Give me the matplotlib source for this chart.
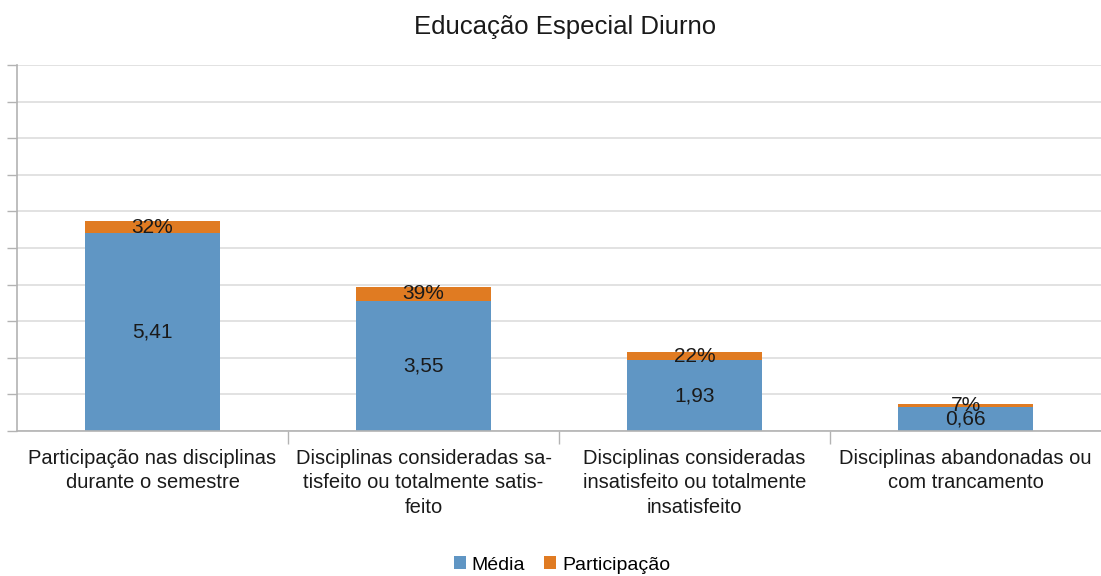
import numpy as np
import matplotlib.pyplot as plt

plt.rcParams['font.family'] = ['Liberation Sans', 'DejaVu Sans']

categorias = [
    'Participação nas disciplinas\ndurante o semestre',
    'Disciplinas consideradas sa-\ntisfeito ou totalmente satis-\nfeito',
    'Disciplinas consideradas\ninsatisfeito ou totalmente\ninsatisfeito',
    'Disciplinas abandonadas ou\ncom trancamento',
]
media = [5.41, 3.55, 1.93, 0.66]
participacao = [0.32, 0.39, 0.22, 0.07]

azul = '#6096c4'
laranja = '#e07b22'

fig = plt.figure(figsize=(11.01, 5.76), dpi=100)
ax = fig.add_axes([17 / 1101, 1 - 431 / 576, 1 - 17 / 1101, 366 / 576])

x = np.arange(len(categorias))
b1 = ax.bar(x, media, width=0.5, color=azul, label='Média', zorder=2)
b2 = ax.bar(x, participacao, width=0.5, bottom=media, color=laranja,
            label='Participação', zorder=2)

# rótulos
for i in range(len(x)):
    ax.text(x[i], media[i] / 2, f'{media[i]:.2f}'.replace('.', ','),
            ha='center', va='center', fontsize=15, color='#1a1a1a', zorder=3)
    ax.text(x[i], media[i] + participacao[i] / 2, f'{participacao[i] * 100:.0f}%',
            ha='center', va='center', fontsize=15, color='#1a1a1a', zorder=3)

ax.set_xlim(-0.5, len(x) - 0.5)
ax.set_ylim(0, 10)
ax.set_yticks(np.arange(0, 11, 1))
ax.set_yticklabels([])
ax.yaxis.grid(True, color='#dddddd', linewidth=1.2, zorder=0)
ax.tick_params(axis='y', length=7, color='#b3b3b3', width=1)

# separadores das categorias
ax.set_xticks(np.arange(-0.5, len(x), 1)[1:len(x)], minor=False)
ax.set_xticklabels([])
ax.tick_params(axis='x', length=9, color='#b3b3b3', width=1)
ax.set_xticks(x, minor=True)
ax.set_xticklabels(categorias, minor=True, fontsize=14.5, color='#1a1a1a',
                   linespacing=1.35)
ax.tick_params(axis='x', which='minor', length=0, pad=13)

for s in ['top', 'right']:
    ax.spines[s].set_visible(False)
for s in ['left', 'bottom']:
    ax.spines[s].set_color('#b3b3b3')
    ax.spines[s].set_linewidth(1.2)

fig.text(0.513, 1 - 27 / 576, 'Educação Especial Diurno', ha='center', va='center',
         fontsize=18.5, color='#1a1a1a')

fig.legend(handles=[b1, b2], loc='center', bbox_to_anchor=(562 / 1101, 1 - 565 / 576),
           ncol=2, frameon=False, fontsize=14, handlelength=0.6, handleheight=0.6,
           handletextpad=0.3, columnspacing=1.0)

fig.savefig('out.png', dpi=100)
